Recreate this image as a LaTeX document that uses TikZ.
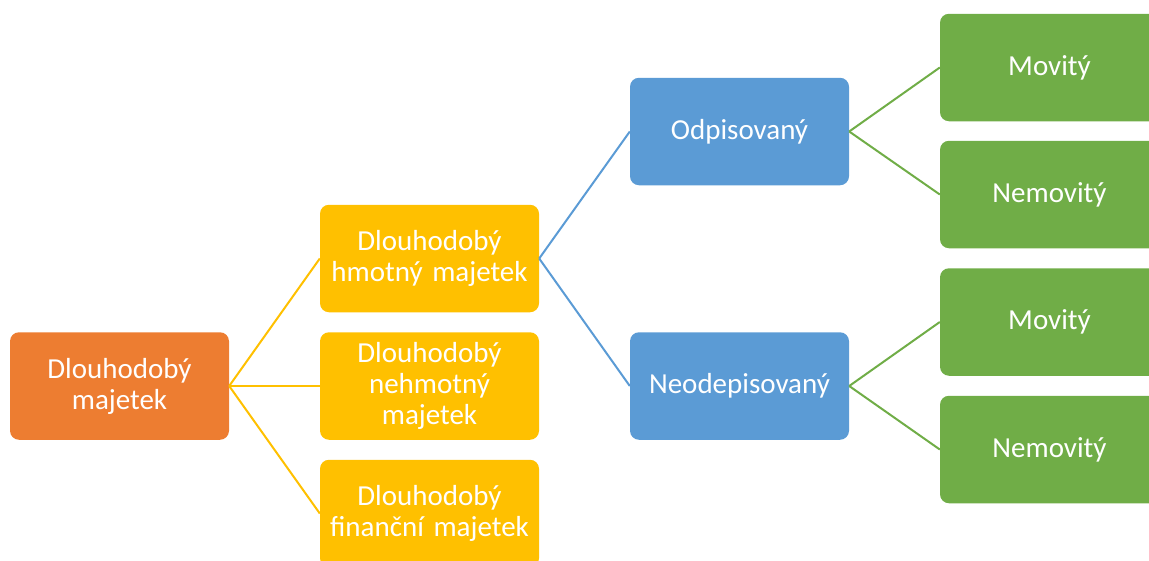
\documentclass[tikz,border=0pt]{standalone}
\usepackage{fontspec}
\setmainfont{Carlito}
\definecolor{cOrange}{HTML}{ED7D31}
\definecolor{cYellow}{HTML}{FFC000}
\definecolor{cBlue}{HTML}{5B9BD5}
\definecolor{cGreen}{HTML}{70AD47}
\tikzset{
  box/.style={rounded corners=9pt, minimum width=219pt, minimum height=107.5pt,
    text width=205pt, align=center, text=white, inner sep=0pt,
    font=\fontsize{29}{31}\selectfont},
  obox/.style={box, fill=cOrange},
  ybox/.style={box, fill=cYellow},
  bbox/.style={box, fill=cBlue},
  gbox/.style={box, fill=cGreen},
  link/.style={line width=2pt}
}
\begin{document}
\begin{tikzpicture}
\useasboundingbox (0,0) rectangle (1149pt,-560pt);
\node[obox] (root) at (119.5pt,-386pt) {Dlouhodobý\\majetek};
\node[ybox] (y1) at (429.5pt,-258.5pt) {Dlouhodobý\\hmotný majetek};
\node[ybox] (y2) at (429.5pt,-386pt) {Dlouhodobý\\nehmotný\\majetek};
\node[ybox] (y3) at (429.5pt,-513.5pt) {Dlouhodobý\\finanční majetek};
\node[bbox] (b1) at (739.5pt,-131.5pt) {Odpisovaný};
\node[bbox] (b2) at (739.5pt,-386pt) {Neodepisovaný};
\node[gbox] (g1) at (1049.5pt,-67.5pt) {Movitý};
\node[gbox] (g2) at (1049.5pt,-194.5pt) {Nemovitý};
\node[gbox] (g3) at (1049.5pt,-322pt) {Movitý};
\node[gbox] (g4) at (1049.5pt,-449.5pt) {Nemovitý};
\draw[link, cYellow] (root.east) -- (y1.west);
\draw[link, cYellow] (root.east) -- (y2.west);
\draw[link, cYellow] (root.east) -- (y3.west);
\draw[link, cBlue] (y1.east) -- (b1.west);
\draw[link, cBlue] (y1.east) -- (b2.west);
\draw[link, cGreen] (b1.east) -- (g1.west);
\draw[link, cGreen] (b1.east) -- (g2.west);
\draw[link, cGreen] (b2.east) -- (g3.west);
\draw[link, cGreen] (b2.east) -- (g4.west);
\end{tikzpicture}
\end{document}
